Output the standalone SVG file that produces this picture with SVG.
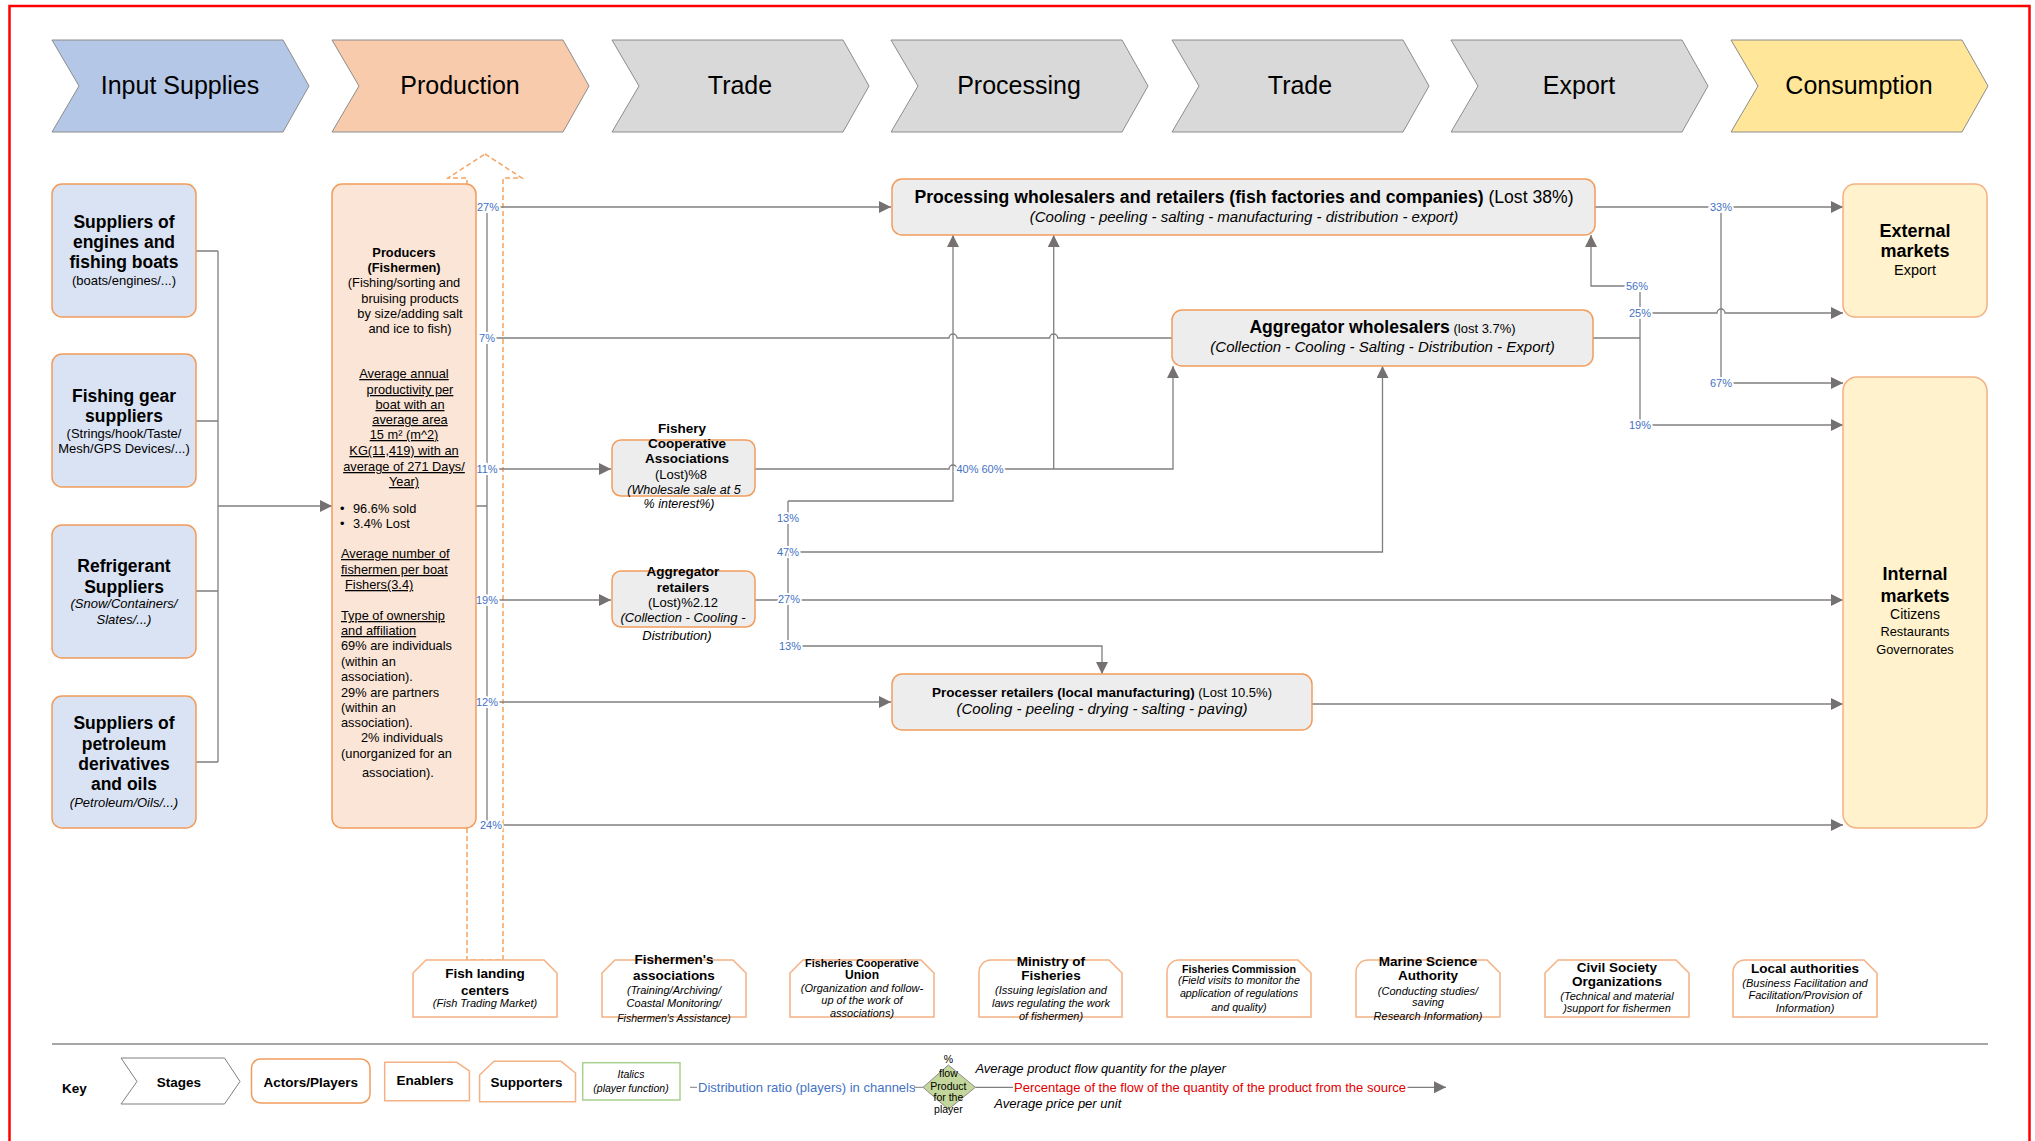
<svg xmlns="http://www.w3.org/2000/svg" width="2035" height="1141" viewBox="0 0 2035 1141">
<defs>
<marker id="arr" viewBox="0 0 12 12" markerWidth="12" markerHeight="12" refX="12" refY="6" orient="auto" markerUnits="userSpaceOnUse">
<path d="M0,0 L12,6 L0,12 Z" fill="#767171"/>
</marker>
</defs>
<style>
text{font-family:"Liberation Sans",Arial,sans-serif;fill:#000}
.stg{stroke:#8c8c8c;stroke-width:1}
.stxt{font-size:25px;text-anchor:middle}
.sup{fill:#DAE3F3;stroke:#F19C5B;stroke-width:1.5}
.act{fill:#EDEDED;stroke:#F19C5B;stroke-width:1.5}
.mkt{fill:#FFF2CC;stroke:#F4B183;stroke-width:1.5}
.prod{fill:#FBE5D6;stroke:#F19C5B;stroke-width:1.5}
.enb{fill:#fff;stroke:#F4B183;stroke-width:1.5}
.c{text-anchor:middle}
.b{font-weight:bold}
.i{font-style:italic}
.u{text-decoration:underline}
.conn{fill:none;stroke:#7f7f7f;stroke-width:1.3}
.pct{font-size:11px;fill:#4472C4;text-anchor:middle;stroke:#fff;stroke-width:4;paint-order:stroke}
.s13{font-size:13px}
.s11{font-size:11px}
</style>
<rect x="9.5" y="6" width="2020" height="1200" fill="none" stroke="#ff0000" stroke-width="2.5"/>

<g id="stages">
<g id="stage-input"><path class="stg" fill="#B4C7E7" d="M52,40 H283 L309,86 L283,132 H52 L79,86 Z"/><text class="stxt" x="180" y="94">Input Supplies</text></g>
<g id="stage-production"><path class="stg" fill="#F8CBAD" d="M332,40 H563 L589,86 L563,132 H332 L359,86 Z"/><text class="stxt" x="460" y="94">Production</text></g>
<g id="stage-trade1"><path class="stg" fill="#D9D9D9" d="M612,40 H843 L869,86 L843,132 H612 L639,86 Z"/><text class="stxt" x="740" y="94">Trade</text></g>
<g id="stage-processing"><path class="stg" fill="#D9D9D9" d="M891,40 H1122 L1148,86 L1122,132 H891 L918,86 Z"/><text class="stxt" x="1019" y="94">Processing</text></g>
<g id="stage-trade2"><path class="stg" fill="#D9D9D9" d="M1172,40 H1403 L1429,86 L1403,132 H1172 L1199,86 Z"/><text class="stxt" x="1300" y="94">Trade</text></g>
<g id="stage-export"><path class="stg" fill="#D9D9D9" d="M1451,40 H1682 L1708,86 L1682,132 H1451 L1478,86 Z"/><text class="stxt" x="1579" y="94">Export</text></g>
<g id="stage-consumption"><path class="stg" fill="#FFE699" d="M1731,40 H1962 L1988,86 L1962,132 H1731 L1758,86 Z"/><text class="stxt" x="1859" y="94">Consumption</text></g>
</g>

<g id="landing-arrow">
<path d="M485,154 L522,178 H503 V960 H467 V178 H448 Z" fill="none" stroke="#F4A460" stroke-width="1.5" stroke-dasharray="5,3"/>
</g>

<g id="connectors">
<path class="conn" d="M196,251 H218 M196,421 H218 M196,591 H218 M196,762 H218 M218,251 V762"/>
<path class="conn" d="M218,506 H332" marker-end="url(#arr)"/>
<path class="conn" d="M476,506 H487 M487,207 V825"/>
<path class="conn" d="M487,207 H891" marker-end="url(#arr)"/>
<path class="conn" d="M487,338 H949 a4,4 0 0 1 8,0 H1049.7 a4,4 0 0 1 8,0 H1172"/>
<path class="conn" d="M487,469 H611" marker-end="url(#arr)"/>
<path class="conn" d="M487,600 H611" marker-end="url(#arr)"/>
<path class="conn" d="M487,702 H891" marker-end="url(#arr)"/>
<path class="conn" d="M487,825 H1843" marker-end="url(#arr)"/>
<path class="conn" d="M755,469 H949 a4,4 0 0 1 8,0 H1173 V366" marker-end="url(#arr)"/>
<path class="conn" d="M1053.7,469 V235" marker-end="url(#arr)"/>
<path class="conn" d="M755,600 H788" stroke-width="2.2"/>
<path class="conn" d="M788,501 V646"/>
<path class="conn" d="M788,501 H953 V235" marker-end="url(#arr)"/>
<path class="conn" d="M788,552 H1382.5 V366" marker-end="url(#arr)"/>
<path class="conn" d="M788,600 H1843" marker-end="url(#arr)"/>
<path class="conn" d="M788,646 H1102 V674" marker-end="url(#arr)"/>
<path class="conn" d="M1312,704 H1843" marker-end="url(#arr)"/>
<path class="conn" d="M1595,207 H1843" marker-end="url(#arr)"/>
<path class="conn" d="M1721,207 V383 H1843" marker-end="url(#arr)"/>
<path class="conn" d="M1593,338 H1640" stroke-width="2.2"/>
<path class="conn" d="M1640,425 V286 H1591 V235" marker-end="url(#arr)"/>
<path class="conn" d="M1640,313 H1717 a4,4 0 0 1 8,0 H1843" marker-end="url(#arr)"/>
<path class="conn" d="M1640,425 H1843" marker-end="url(#arr)"/>
<text class="pct" x="488" y="211">27%</text>
<text class="pct" x="487" y="342">7%</text>
<text class="pct" x="487" y="473">11%</text>
<text class="pct" x="487" y="604">19%</text>
<text class="pct" x="487" y="706">12%</text>
<text class="pct" x="491" y="829">24%</text>
<text class="pct" x="967.5" y="473">40%</text>
<text class="pct" x="992.5" y="473">60%</text>
<text class="pct" x="788" y="522">13%</text>
<text class="pct" x="788" y="556">47%</text>
<text class="pct" x="789" y="603">27%</text>
<text class="pct" x="790" y="650">13%</text>
<text class="pct" x="1637" y="290">56%</text>
<text class="pct" x="1640" y="317">25%</text>
<text class="pct" x="1640" y="429">19%</text>
<text class="pct" x="1721" y="211">33%</text>
<text class="pct" x="1721" y="387">67%</text>
</g>

<g id="supplier-engines"><rect class="sup" x="52" y="184" width="144" height="133" rx="10"/>
<text class="c b" font-size="17.5" x="124" y="228">Suppliers of</text>
<text class="c b" font-size="17.5" x="124" y="248">engines and</text>
<text class="c b" font-size="17.5" x="124" y="268">fishing boats</text>
<text class="c s13" x="124" y="285">(boats/engines/...)</text></g>

<g id="supplier-gear"><rect class="sup" x="52" y="354" width="144" height="133" rx="10"/>
<text class="c b" font-size="17.5" x="124" y="402">Fishing gear</text>
<text class="c b" font-size="17.5" x="124" y="422">suppliers</text>
<text class="c s13" x="124" y="438">(Strings/hook/Taste/</text>
<text class="c s13" x="124" y="453">Mesh/GPS Devices/...)</text></g>

<g id="supplier-refrigerant"><rect class="sup" x="52" y="525" width="144" height="133" rx="10"/>
<text class="c b" font-size="17.5" x="124" y="572">Refrigerant</text>
<text class="c b" font-size="17.5" x="124" y="593">Suppliers</text>
<text class="c s13 i" x="124" y="608">(Snow/Containers/</text>
<text class="c s13 i" x="124" y="624">Slates/...)</text></g>

<g id="supplier-petroleum"><rect class="sup" x="52" y="696" width="144" height="132" rx="10"/>
<text class="c b" font-size="17.5" x="124" y="729">Suppliers of</text>
<text class="c b" font-size="17.5" x="124" y="750">petroleum</text>
<text class="c b" font-size="17.5" x="124" y="770">derivatives</text>
<text class="c b" font-size="17.5" x="124" y="790">and oils</text>
<text class="c s13 i" x="124" y="807">(Petroleum/Oils/...)</text></g>

<g id="producers" font-size="12.8">
<rect class="prod" x="332" y="184" width="144" height="644" rx="10"/>
<text class="c b" x="404" y="257">Producers</text>
<text class="c b" x="404" y="272">(Fishermen)</text>
<text class="c" x="404" y="287">(Fishing/sorting and</text>
<text class="c" x="410" y="303">bruising products</text>
<text class="c" x="410" y="318">by size/adding salt</text>
<text class="c" x="410" y="333">and ice to fish)</text>
<text class="c u" x="404" y="378">Average annual</text>
<text class="c u" x="410" y="394">productivity per</text>
<text class="c u" x="410" y="409">boat with an</text>
<text class="c u" x="410" y="424">average area</text>
<text class="c u" x="404" y="439">15 m² (m^2)</text>
<text class="c u" x="404" y="455">KG(11,419) with an</text>
<text class="c u" x="404" y="471">average of 271 Days/</text>
<text class="c u" x="404" y="486">Year)</text>
<text x="340" y="513">•</text><text x="353" y="513">96.6% sold</text>
<text x="340" y="528">•</text><text x="353" y="528">3.4% Lost</text>
<text class="u" x="341" y="558">Average number of</text>
<text class="u" x="341" y="574">fishermen per boat</text>
<text class="u" x="345" y="589">Fishers(3.4)</text>
<text class="u" x="341" y="620">Type of ownership</text>
<text class="u" x="341" y="635">and affiliation</text>
<text x="341" y="650">69% are individuals</text>
<text x="341" y="666">(within an</text>
<text x="341" y="681">association).</text>
<text x="341" y="697">29% are partners</text>
<text x="341" y="712">(within an</text>
<text x="341" y="727">association).</text>
<text x="361" y="742">2% individuals</text>
<text x="341" y="758">(unorganized for an</text>
<text x="362" y="777">association).</text>
</g>

<g id="fishery-coop"><rect class="act" x="612" y="440" width="143" height="56" rx="9"/>
<text class="c b" font-size="13.5" x="682" y="433">Fishery</text>
<text class="c b" font-size="13.5" x="687" y="448">Cooperative</text>
<text class="c b" font-size="13.5" x="687" y="463">Associations</text>
<text class="c s13" x="681" y="479">(Lost)%8</text>
<text class="c i" font-size="12.5" x="684" y="494">(Wholesale sale at 5</text>
<text class="c i" font-size="12.5" x="679" y="508">% interest%)</text></g>

<g id="aggregator-retailers"><rect class="act" x="612" y="571" width="143" height="56" rx="9"/>
<text class="c b" font-size="13.5" x="683" y="576">Aggregator</text>
<text class="c b" font-size="13.5" x="683" y="592">retailers</text>
<text class="c s13" x="683" y="607">(Lost)%2.12</text>
<text class="c s13 i" x="683" y="622">(Collection - Cooling -</text>
<text class="c s13 i" x="677" y="640">Distribution)</text></g>

<g id="processing-wholesalers"><rect class="act" x="892" y="179" width="703" height="56" rx="10"/>
<text class="c" font-size="17.6" x="1244" y="203"><tspan class="b">Processing wholesalers and retailers (fish factories and companies)</tspan> (Lost 38%)</text>
<text class="c i" font-size="15" x="1244" y="222">(Cooling - peeling - salting - manufacturing - distribution - export)</text></g>

<g id="aggregator-wholesalers"><rect class="act" x="1172" y="310" width="421" height="56" rx="10"/>
<text class="c" x="1382.5" y="333"><tspan class="b" font-size="17.6">Aggregator wholesalers</tspan><tspan font-size="13"> (lost 3.7%)</tspan></text>
<text class="c i" font-size="15" x="1382.5" y="352">(Collection - Cooling - Salting - Distribution - Export)</text></g>

<g id="processer-retailers"><rect class="act" x="892" y="674" width="420" height="56" rx="10"/>
<text class="c" x="1102" y="697"><tspan class="b" font-size="13.5">Processer retailers (local manufacturing)</tspan><tspan font-size="13">  (Lost 10.5%)</tspan></text>
<text class="c i" font-size="15" x="1102" y="714">(Cooling - peeling - drying - salting - paving)</text></g>

<g id="external-markets"><rect class="mkt" x="1843" y="184" width="144" height="133" rx="12"/>
<text class="c b" font-size="18" x="1915" y="237">External</text>
<text class="c b" font-size="18" x="1915" y="257">markets</text>
<text class="c" font-size="14.5" x="1915" y="275">Export</text></g>

<g id="internal-markets"><rect class="mkt" x="1843" y="377" width="144" height="451" rx="14"/>
<text class="c b" font-size="18" x="1915" y="580">Internal</text>
<text class="c b" font-size="18" x="1915" y="602">markets</text>
<text class="c" font-size="14" x="1915" y="619">Citizens</text>
<text class="c" font-size="12.8" x="1915" y="636">Restaurants</text>
<text class="c" font-size="12.8" x="1915" y="654">Governorates</text></g>

<g id="fish-landing-centers"><path class="enb" d="M413,1017 V973 L426,960 H544 L557,973 V1017 Z"/>
<text class="c b" font-size="13.5" x="485" y="978">Fish landing</text>
<text class="c b" font-size="13.5" x="485" y="995">centers</text>
<text class="c i s11" x="485" y="1007">(Fish Trading Market)</text></g>

<g id="fishermens-associations"><path class="enb" d="M602,1017 V973 L615,960 H733 L746,973 V1017 Z"/>
<text class="c b" font-size="13.5" x="674" y="964">Fishermen's</text>
<text class="c b" font-size="13.5" x="674" y="980">associations</text>
<text class="c i s11" x="674" y="994">(Training/Archiving/</text>
<text class="c i s11" x="674" y="1007">Coastal Monitoring/</text>
<text class="c i" font-size="10.5" x="674" y="1022">Fishermen's Assistance)</text></g>

<g id="fisheries-coop-union"><path class="enb" d="M790,1017 V973 L803,960 H921 L934,973 V1017 Z"/>
<text class="c b" font-size="10.9" x="862" y="967">Fisheries Cooperative</text>
<text class="c b" font-size="12" x="862" y="979">Union</text>
<text class="c i s11" x="862" y="992">(Organization and follow-</text>
<text class="c i s11" x="862" y="1004">up of the work of</text>
<text class="c i s11" x="862" y="1017">associations)</text></g>

<g id="ministry-of-fisheries"><path class="enb" d="M979,1017 V972 A12,12 0 0 1 991,960 H1109 L1122,973 V1017 Z"/>
<text class="c b" font-size="13.5" x="1051" y="966">Ministry of</text>
<text class="c b" font-size="13.5" x="1051" y="980">Fisheries</text>
<text class="c i s11" x="1051" y="994">(Issuing legislation and</text>
<text class="c i s11" x="1051" y="1007">laws regulating the work</text>
<text class="c i s11" x="1051" y="1020">of fishermen)</text></g>

<g id="fisheries-commission"><path class="enb" d="M1167,1017 V972 A12,12 0 0 1 1179,960 H1298 L1311,973 V1017 Z"/>
<text class="c b" font-size="10.7" x="1239" y="973">Fisheries Commission</text>
<text class="c i" font-size="10.7" x="1239" y="984">(Field visits to monitor the</text>
<text class="c i" font-size="10.7" x="1239" y="997">application of regulations</text>
<text class="c i" font-size="10.7" x="1239" y="1011">and quality)</text></g>

<g id="marine-science-authority"><path class="enb" d="M1356,1017 V972 A12,12 0 0 1 1368,960 H1487 L1500,973 V1017 Z"/>
<text class="c b" font-size="13.5" x="1428" y="966">Marine Science</text>
<text class="c b" font-size="13.5" x="1428" y="980">Authority</text>
<text class="c i s11" x="1428" y="995">(Conducting studies/</text>
<text class="c i s11" x="1428" y="1006">saving</text>
<text class="c i s11" x="1428" y="1020">Research Information)</text></g>

<g id="civil-society"><path class="enb" d="M1545,1017 V973 L1558,960 H1676 L1689,973 V1017 Z"/>
<text class="c b" font-size="13.5" x="1617" y="972">Civil Society</text>
<text class="c b" font-size="13.5" x="1617" y="986">Organizations</text>
<text class="c i s11" x="1617" y="1000">(Technical and material</text>
<text class="c i s11" x="1617" y="1012">)support for fishermen</text></g>

<g id="local-authorities"><path class="enb" d="M1733,1017 V972 A12,12 0 0 1 1745,960 H1864 L1877,973 V1017 Z"/>
<text class="c b" font-size="13.5" x="1805" y="973">Local authorities</text>
<text class="c i s11" x="1805" y="987">(Business Facilitation and</text>
<text class="c i s11" x="1805" y="999">Facilitation/Provision of</text>
<text class="c i s11" x="1805" y="1012">Information)</text></g>

<path d="M52,1044 H1988" stroke="#A6A6A6" stroke-width="2"/>

<g id="key">
<text class="b" font-size="13.5" x="62" y="1093">Key</text>
<path d="M121,1058 H224.5 L240,1081.5 L224.5,1104 H121 L137,1081.5 Z" fill="#fff" stroke="#7f7f7f" stroke-width="1"/>
<text class="c b" font-size="13.5" x="179" y="1087">Stages</text>
<rect x="251.5" y="1059" width="118.5" height="44" rx="9" fill="#fff" stroke="#F19C5B" stroke-width="1.5"/>
<text class="c b" font-size="13.5" x="310.7" y="1087">Actors/Players</text>
<path class="enb" d="M384.7,1062.3 H456.6 L469.4,1071 V1100.7 H384.7 Z"/>
<text class="c b" font-size="13.5" x="425" y="1085">Enablers</text>
<path class="enb" d="M479.6,1101.7 V1075 L494,1061.3 H561 L575.5,1073 V1101.7 Z"/>
<text class="c b" font-size="13.5" x="526.5" y="1087">Supporters</text>
<rect x="582.7" y="1062.7" width="97.3" height="37.3" fill="#fff" stroke="#A9D18E" stroke-width="1.5"/>
<text class="c i" font-size="10.5" x="631" y="1078">Italics</text>
<text class="c i" font-size="10.5" x="631" y="1092">(player function)</text>
<path d="M690,1087.3 H697" stroke="#7f7f7f" stroke-width="1"/>
<text class="s13" style="fill:#4472C4" x="698" y="1091.7">Distribution ratio (players) in channels</text>
<path d="M914,1087.3 H923" stroke="#7f7f7f" stroke-width="1"/>
<path d="M923,1087.3 L948.4,1065 L975.4,1087.3 L948.4,1109.3 Z" fill="#C3D69B" stroke="#8c8c8c" stroke-width="1"/>
<text class="c" font-size="10.5" x="948.4" y="1063">%</text>
<text class="c" font-size="10.5" x="948.4" y="1077">flow</text>
<text class="c" font-size="10.5" x="948.4" y="1090">Product</text>
<text class="c" font-size="10.5" x="948.4" y="1101">for the</text>
<text class="c" font-size="10.5" x="948.4" y="1113">player</text>
<path d="M975.4,1087.3 H1013" stroke="#7f7f7f" stroke-width="1.3"/>
<text font-size="13" style="fill:#E00000" x="1014" y="1091.7" textLength="392" lengthAdjust="spacingAndGlyphs">Percentage of the flow of the quantity of the product from the source</text>
<path class="conn" d="M1407.5,1087.3 H1446" marker-end="url(#arr)"/>
<text class="i s13" x="975.4" y="1072.7">Average product flow quantity for the player</text>
<text class="i s13" x="994.3" y="1107.7">Average price per unit</text>
</g>
</svg>
